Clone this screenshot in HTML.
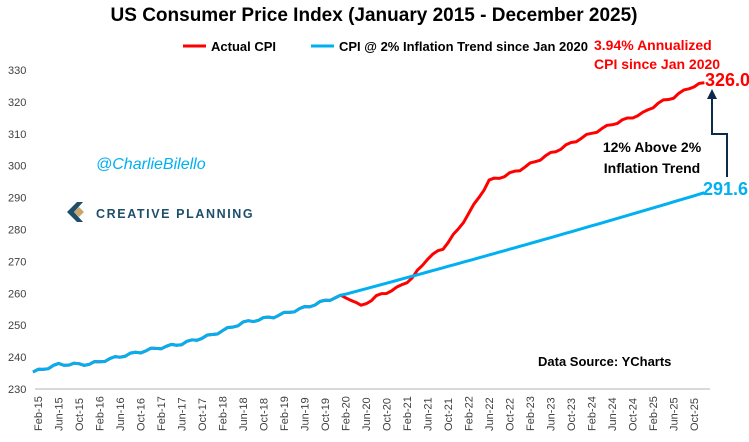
<!DOCTYPE html>
<html><head><meta charset="utf-8"><style>
body{margin:0;background:#fff;}
svg text{font-family:"Liberation Sans",sans-serif;}
</style></head><body>
<svg id="s" width="749" height="437" xmlns="http://www.w3.org/2000/svg">
<text x="374" y="21" text-anchor="middle" font-size="19" font-weight="bold" fill="#000">US Consumer Price Index (January 2015 -  December 2025)</text>
<line x1="183" y1="46" x2="206" y2="46" stroke="#f00" stroke-width="3"/>
<text x="211" y="51" font-size="13" font-weight="bold">Actual CPI</text>
<line x1="311" y1="46" x2="334" y2="46" stroke="#00b0f0" stroke-width="3"/>
<text x="339" y="51" font-size="13" font-weight="bold">CPI @ 2% Inflation Trend since Jan 2020</text>
<text x="594" y="50" font-size="14" font-weight="bold" fill="#f00">3.94% Annualized</text>
<text x="594" y="69" font-size="14" font-weight="bold" fill="#f00">CPI since Jan 2020</text>
<text x="705" y="86" font-size="18" font-weight="bold" fill="#f00">326.0</text>
<text x="703" y="195" font-size="18" font-weight="bold" fill="#00b0f0">291.6</text>
<text x="652" y="152" text-anchor="middle" font-size="14" font-weight="bold">12% Above 2%</text>
<text x="652" y="173" text-anchor="middle" font-size="14" font-weight="bold">Inflation Trend</text>
<polyline points="727,177 727,134 712,134 712,97" fill="none" stroke="#0d2a4a" stroke-width="2"/>
<polygon points="707,99 717,99 712,89" fill="#0d2a4a"/>
<text x="538" y="366" font-size="13" font-weight="bold">Data Source: YCharts</text>
<text x="96" y="169" font-size="16" font-style="italic" fill="#00b0f0">@CharlieBilello</text>
<g transform="translate(67,202)">
<path d="M10,0 L16,0 L7,10 L16,20 L10,20 L0,10 Z" fill="#1f4e6b"/>
<path d="M12,5 L17,10 L12,15 L7,10 Z" fill="#c9a66b"/>
</g>
<text x="96" y="218" font-size="12.5" font-weight="bold" fill="#1f4e6b" letter-spacing="1.6">CREATIVE PLANNING</text>
<line x1="35" y1="389" x2="710" y2="389" stroke="#d9d9d9" stroke-width="2"/>
<g id="yl" font-size="11" fill="#404040"></g>
<g id="xl" font-size="11" fill="#404040"></g>
<polyline id="red" fill="none" stroke="#f00" stroke-width="3" stroke-linejoin="round"/>
<polyline id="blue" fill="none" stroke="#00b0f0" stroke-width="3" stroke-linejoin="round"/>
</svg>
<script>
var ns="http://www.w3.org/2000/svg";
function Y(v){return 389-(v-230)*3.19;}
function X(m){return 33+m*5.125;}
var yl=document.getElementById('yl');
for(var v=230;v<=330;v+=10){var t=document.createElementNS(ns,'text');t.setAttribute('x',8);t.setAttribute('y',Y(v)+4);t.textContent=v;yl.appendChild(t);}
var mn=['Feb','Jun','Oct'];var xl=document.getElementById('xl');
for(var i=0;i<33;i++){var m=1+4*i;var yr=15+Math.floor(m/12);var t=document.createElementNS(ns,'text');var x=X(m)+4;t.setAttribute('transform','translate('+x+',431) rotate(-90)');t.textContent=mn[i%3]+'-'+yr;xl.appendChild(t);}
var k=[[0,235.3],[5,237.7],[11,237.8],[17,240.2],[23,242.4],[29,244.2],[35,247.0],[41,250.8],[47,252.7],[53,255.5],[59,258.7],[60,259.0],[62,258.2],[64,255.9],[67,259.0],[71,261.6],[74,264.8],[77,271.0],[80,274.1],[83,280.1],[86,287.5],[89,295.3],[92,296.8],[95,298.8],[101,303.8],[107,308.7],[113,313.0],[119,316.4],[122,319.6],[125,321.5],[128,324.4],[131,326.0]];
var a=[];for(var j=0;j<k.length-1;j++){for(var m=k[j][0];m<k[j+1][0];m++){var f=(m-k[j][0])/(k[j+1][0]-k[j][0]);a.push(k[j][1]+f*(k[j+1][1]-k[j][1])+(Math.sin(m*1.7)*0.4));}}a.push(326.0);
var r=[],b=[];for(var m=0;m<a.length;m++){var x=X(m);r.push(x+','+Y(a[m]));var bv=m<=60?a[m]:259.3*Math.pow(1.02,(m-60)/12);b.push(x+','+Y(bv));}
document.getElementById('red').setAttribute('points',r.join(' '));
document.getElementById('blue').setAttribute('points',b.join(' '));
</script>
</body></html>
